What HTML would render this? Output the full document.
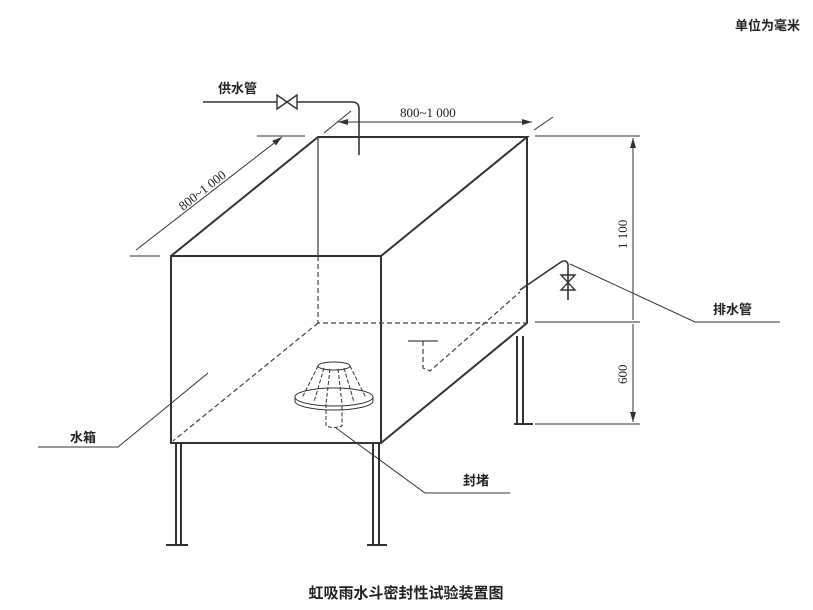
<!DOCTYPE html>
<html><head><meta charset="utf-8"><style>
html,body{margin:0;padding:0;background:#fff}
svg{display:block}
text{font-family:"Liberation Sans","Noto Sans CJK SC",sans-serif;fill:#222}
text.n{font-family:"Liberation Serif",serif}
</style></head><body>
<svg width="813" height="610" viewBox="0 0 813 610" xmlns="http://www.w3.org/2000/svg">
<defs><marker id="a" viewBox="0 0 10 6" refX="10" refY="3" markerWidth="10" markerHeight="6" orient="auto-start-reverse" markerUnits="userSpaceOnUse"><path d="M0,0L10,3L0,6z" fill="#333"/></marker></defs>
<text x="735" y="30" font-size="13" font-weight="bold">单位为毫米</text>
<g stroke="#333" fill="none" stroke-width="2">
<rect x="171" y="256" width="210" height="187"/>
<path d="M171,256L318,137L527,137L381,256M527,137L527,323L381,443"/>
</g>
<path d="M318,137V256" stroke="#444" stroke-width="1.3" fill="none"/>
<g stroke="#444" fill="none" stroke-width="1.2" stroke-dasharray="5,3">
<path d="M318,256V323H527M318,323L173,441"/>
<path d="M423,341V368L430,371L520,292"/>
</g>
<path d="M408,341H438" stroke="#444" stroke-width="1.2"/>
<g stroke="#333" fill="none" stroke-width="2">
<path d="M176,443V545M181,443V545M166,545H188"/>
<path d="M373,443V545M379,443V545M367,545H387"/>
<path d="M517,336V423M523,336V423M514,424H533"/>
</g>
<g stroke="#333" fill="none" stroke-width="1.6">
<path d="M520,290L561,262Q566,259 568,264V300"/>
<path d="M561,275H575L561,290H575Z" stroke-width="1.4"/>
</g>
<path d="M570,264L695,322H780" stroke="#333" stroke-width="1" fill="none"/>
<text x="713" y="314" font-size="13" font-weight="bold">排水管</text>
<g stroke="#333" fill="none" stroke-width="1.6">
<path d="M203,102H277M297,102H352Q359,102 359,109V155"/>
<path d="M277,95V109L297,95V109Z" stroke-width="1.4"/>
</g>
<text x="218" y="93" font-size="13" font-weight="bold">供水管</text>
<g stroke="#333" stroke-width="1" fill="none">
<path d="M338,122H532" marker-start="url(#a)" marker-end="url(#a)"/>
<path d="M324,133L351,111M534,130L553,117M535,136H556"/>
<path d="M257,136H305M130,256H160"/>
<path d="M136,250L282,137" marker-end="url(#a)"/>
<path d="M535,136H640M535,322H640M535,424H640"/>
<path d="M633,138V320M633,324V422" marker-start="url(#a)" marker-end="url(#a)"/>
</g>
<text class="n" x="400" y="117" font-size="13">800~1 000</text>
<text class="n" transform="translate(183,211) rotate(-38)" font-size="13">800~1 000</text>
<text class="n" transform="translate(627,249) rotate(-90)" font-size="13">1 100</text>
<text class="n" transform="translate(627,384) rotate(-90)" font-size="13">600</text>
<g stroke="#333" fill="none" stroke-width="1">
<ellipse cx="334" cy="397" rx="39" ry="9"/>
<path d="M295,397V401A39,9 0 0 0 373,401V397"/>
<ellipse cx="334" cy="366" rx="16" ry="4"/>
<path d="M318,366L302,398M350,366L366,398" stroke-dasharray="4,2"/>
<path d="M324,368L314,402M330,369L326,404M338,369L342,404M344,368L354,402" stroke-dasharray="4,2"/>
<path d="M326,404V426Q334,429 342,426V404" stroke-dasharray="4,2"/>
<path d="M336,428L425,493H510"/>
<path d="M208,373L118,447H38"/>
</g>
<text x="463" y="485" font-size="13" font-weight="bold">封堵</text>
<text x="70" y="442" font-size="13" font-weight="bold">水箱</text>
<text x="406" y="598" font-size="15" font-weight="bold" text-anchor="middle">虹吸雨水斗密封性试验装置图</text>
</svg>
</body></html>
